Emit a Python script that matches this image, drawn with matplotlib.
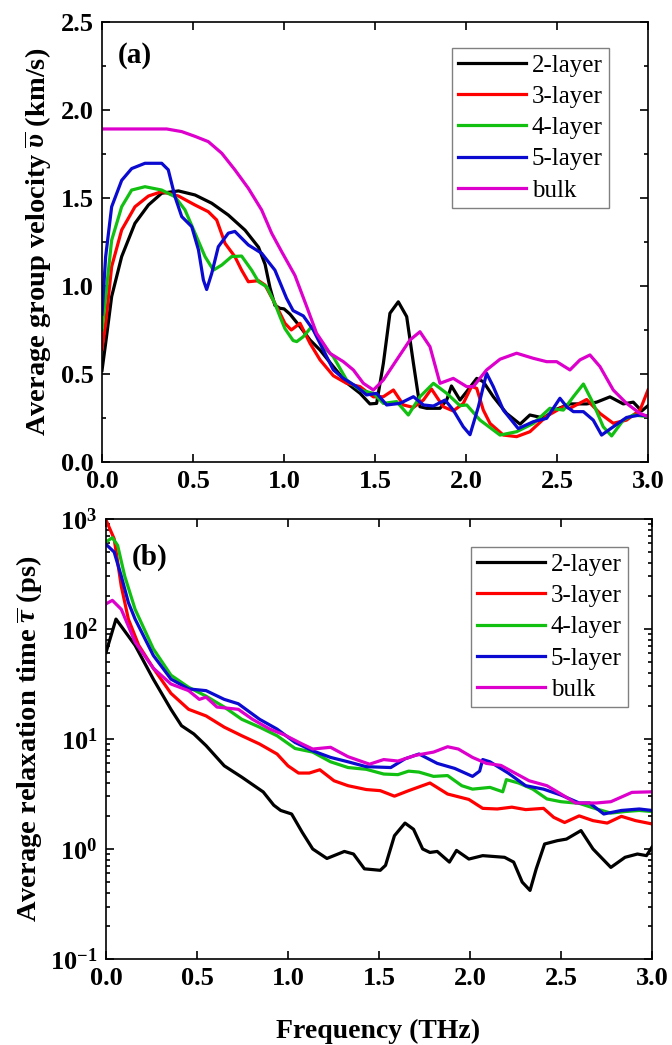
import numpy as np
import matplotlib
matplotlib.use('Agg')
import matplotlib.pyplot as plt
from matplotlib.ticker import MultipleLocator, FormatStrFormatter, LogLocator, FuncFormatter, NullFormatter

plt.rcParams['font.family'] = ['Liberation Serif', 'DejaVu Serif']
plt.rcParams['font.weight'] = 'bold'
plt.rcParams['mathtext.fontset'] = 'custom'
plt.rcParams['mathtext.rm'] = 'Liberation Serif'
plt.rcParams['mathtext.it'] = 'Liberation Serif:italic'
plt.rcParams['mathtext.bf'] = 'Liberation Serif:bold'

labels = ['2-layer', '3-layer', '4-layer', '5-layer', 'bulk']
colors = ['black', '#ff0000', '#11c011', '#0a0ad0', '#dd00cc']

# (a) average group velocity (km/s) vs frequency (THz)
f_v2 = [0.000, 0.020, 0.053, 0.108, 0.181, 0.255, 0.328, 0.420, 0.511, 0.603, 0.694, 0.786, 0.860, 0.896,
        0.923, 0.950, 0.978, 1.000, 1.033, 1.088, 1.143, 1.198, 1.271, 1.344, 1.418, 1.472, 1.509, 1.546,
        1.582, 1.628, 1.674, 1.711, 1.747, 1.784, 1.857, 1.894, 1.920, 1.967, 2.004, 2.059, 2.095, 2.150,
        2.223, 2.297, 2.351, 2.425, 2.498, 2.571, 2.663, 2.718, 2.791, 2.864, 2.919, 2.965, 3.000]
v2 = [0.52, 0.675, 0.94, 1.167, 1.356, 1.46, 1.527, 1.54, 1.517, 1.47, 1.403, 1.317, 1.22, 1.123,
      0.99, 0.89, 0.873, 0.87, 0.84, 0.769, 0.693, 0.636, 0.542, 0.45, 0.39, 0.33, 0.333, 0.561,
      0.845, 0.91, 0.826, 0.561, 0.314, 0.305, 0.305, 0.352, 0.432, 0.352, 0.40, 0.475, 0.456, 0.371,
      0.276, 0.215, 0.267, 0.25, 0.30, 0.33, 0.33, 0.34, 0.37, 0.33, 0.34, 0.29, 0.32]

f_v3 = [0.000, 0.020, 0.053, 0.108, 0.181, 0.255, 0.328, 0.420, 0.511, 0.584, 0.630, 0.676, 0.730, 0.767,
        0.804, 0.860, 0.896, 0.950, 0.978, 1.005, 1.040, 1.088, 1.143, 1.198, 1.271, 1.344, 1.418, 1.491,
        1.546, 1.601, 1.656, 1.711, 1.766, 1.810, 1.875, 1.930, 1.985, 2.031, 2.059, 2.095, 2.132, 2.205,
        2.278, 2.351, 2.443, 2.535, 2.571, 2.663, 2.736, 2.809, 2.882, 2.956, 3.000]
v3 = [0.64, 0.788, 1.11, 1.318, 1.45, 1.511, 1.536, 1.511, 1.46, 1.422, 1.375, 1.242, 1.167, 1.09,
      1.024, 1.03, 1.005, 0.90, 0.845, 0.788, 0.75, 0.788, 0.674, 0.58, 0.49, 0.447, 0.428, 0.37,
      0.371, 0.409, 0.324, 0.31, 0.352, 0.415, 0.314, 0.29, 0.333, 0.43, 0.418, 0.295, 0.219, 0.153,
      0.144, 0.172, 0.26, 0.314, 0.305, 0.355, 0.276, 0.22, 0.238, 0.295, 0.409]

f_v4 = [0.000, 0.020, 0.053, 0.108, 0.163, 0.236, 0.328, 0.401, 0.456, 0.511, 0.566, 0.612, 0.658, 0.712,
        0.767, 0.822, 0.860, 0.905, 0.950, 0.978, 1.005, 1.050, 1.070, 1.106, 1.152, 1.216, 1.271, 1.344,
        1.418, 1.491, 1.546, 1.619, 1.683, 1.747, 1.821, 1.894, 1.967, 2.004, 2.077, 2.187, 2.278, 2.370,
        2.461, 2.535, 2.590, 2.645, 2.699, 2.754, 2.800, 2.864, 2.919, 3.000]
v4 = [0.75, 0.94, 1.26, 1.45, 1.545, 1.564, 1.545, 1.507, 1.432, 1.30, 1.167, 1.09, 1.119, 1.167,
      1.17, 1.09, 1.024, 0.995, 0.90, 0.826, 0.758, 0.69, 0.684, 0.712, 0.769, 0.655, 0.598, 0.466,
      0.409, 0.39, 0.333, 0.343, 0.267, 0.371, 0.447, 0.39, 0.32, 0.324, 0.238, 0.153, 0.172, 0.219,
      0.305, 0.295, 0.371, 0.443, 0.333, 0.20, 0.148, 0.238, 0.267, 0.258]

f_v5 = [0.000, 0.020, 0.053, 0.108, 0.163, 0.236, 0.328, 0.364, 0.401, 0.438, 0.493, 0.530, 0.557, 0.575,
        0.603, 0.639, 0.694, 0.730, 0.804, 0.877, 0.950, 1.014, 1.050, 1.106, 1.161, 1.216, 1.271, 1.326,
        1.399, 1.454, 1.509, 1.564, 1.637, 1.711, 1.766, 1.821, 1.885, 1.930, 1.985, 2.022, 2.068, 2.113,
        2.150, 2.205, 2.287, 2.370, 2.443, 2.516, 2.553, 2.590, 2.645, 2.699, 2.745, 2.809, 2.882, 2.956,
        3.000]
v5 = [0.84, 1.167, 1.45, 1.60, 1.667, 1.697, 1.697, 1.66, 1.507, 1.394, 1.337, 1.205, 1.034, 0.98,
      1.072, 1.223, 1.30, 1.31, 1.233, 1.186, 1.09, 0.93, 0.86, 0.83, 0.75, 0.636, 0.523, 0.475,
      0.428, 0.381, 0.39, 0.324, 0.333, 0.371, 0.324, 0.318, 0.352, 0.295, 0.20, 0.155, 0.314, 0.504,
      0.428, 0.295, 0.19, 0.229, 0.248, 0.362, 0.314, 0.286, 0.286, 0.238, 0.153, 0.20, 0.253, 0.267,
      0.261]

f_vb = [0.000, 0.355, 0.438, 0.511, 0.584, 0.658, 0.730, 0.804, 0.877, 0.932, 0.987, 1.060, 1.125, 1.179,
        1.253, 1.326, 1.381, 1.436, 1.491, 1.546, 1.619, 1.692, 1.747, 1.802, 1.857, 1.930, 2.004, 2.040,
        2.113, 2.187, 2.278, 2.370, 2.443, 2.498, 2.571, 2.626, 2.681, 2.736, 2.809, 2.882, 2.956, 3.000]
vb = [1.892, 1.892, 1.877, 1.85, 1.82, 1.754, 1.66, 1.555, 1.432, 1.30, 1.195, 1.06, 0.882, 0.731,
      0.617, 0.57, 0.523, 0.447, 0.409, 0.466, 0.58, 0.693, 0.74, 0.655, 0.447, 0.475, 0.428, 0.428,
      0.523, 0.584, 0.618, 0.589, 0.57, 0.57, 0.523, 0.58, 0.608, 0.542, 0.409, 0.333, 0.276, 0.258]

# (b) average relaxation time (ps) vs frequency (THz)
f_t2 = [0.000, 0.055, 0.160, 0.260, 0.357, 0.415, 0.483, 0.550, 0.650, 0.746, 0.864, 0.922, 0.960, 1.020,
        1.078, 1.136, 1.214, 1.310, 1.360, 1.420, 1.507, 1.536, 1.585, 1.643, 1.690, 1.740, 1.780, 1.820,
        1.887, 1.926, 1.994, 2.070, 2.190, 2.240, 2.287, 2.330, 2.364, 2.410, 2.480, 2.530, 2.610, 2.676,
        2.774, 2.852, 2.920, 2.970, 3.000]
t2 = [61, 123, 71, 35, 18.6, 13.2, 11.1, 8.7, 5.7, 4.5, 3.3, 2.5, 2.24, 2.08,
      1.42, 1.0, 0.82, 0.95, 0.90, 0.66, 0.64, 0.71, 1.32, 1.72, 1.51, 1.0, 0.93, 0.95,
      0.76, 0.97, 0.81, 0.87, 0.84, 0.76, 0.50, 0.42, 0.66, 1.11, 1.19, 1.23, 1.47, 1.0,
      0.68, 0.84, 0.90, 0.87, 1.04]

f_t3 = [0.000, 0.045, 0.084, 0.123, 0.180, 0.260, 0.357, 0.454, 0.550, 0.650, 0.746, 0.844, 0.940, 1.000,
        1.058, 1.117, 1.175, 1.253, 1.330, 1.430, 1.507, 1.585, 1.663, 1.780, 1.877, 1.994, 2.070, 2.150,
        2.230, 2.306, 2.404, 2.460, 2.520, 2.600, 2.676, 2.754, 2.832, 2.910, 3.000]
t3 = [980, 660, 245, 123, 71, 44, 26, 18.6, 16.2, 12.8, 10.7, 9.0, 7.3, 5.7,
      4.9, 4.9, 5.25, 4.17, 3.76, 3.47, 3.39, 3.02, 3.39, 3.98, 3.16, 2.82, 2.34, 2.31,
      2.4, 2.28, 2.34, 1.94, 1.74, 2.0, 1.81, 1.72, 1.98, 1.81, 1.69]

f_t4 = [0.000, 0.035, 0.064, 0.103, 0.160, 0.260, 0.357, 0.454, 0.550, 0.650, 0.746, 0.844, 0.940, 1.039,
        1.136, 1.234, 1.330, 1.430, 1.526, 1.604, 1.663, 1.720, 1.800, 1.877, 1.955, 2.014, 2.110, 2.180,
        2.200, 2.267, 2.345, 2.423, 2.500, 2.600, 2.696, 2.774, 2.852, 2.930, 3.000]
t4 = [617, 676, 575, 302, 151, 66, 38, 29.5, 24.5, 19.5, 15.1, 12.8, 10.7, 8.2,
      7.6, 6.2, 5.5, 5.3, 4.8, 4.74, 5.1, 5.0, 4.57, 4.65, 3.76, 3.5, 3.63, 3.31,
      4.27, 3.98, 3.5, 2.85, 2.69, 2.6, 2.31, 2.12, 2.19, 2.24, 2.19]

f_t5 = [0.000, 0.045, 0.084, 0.123, 0.160, 0.260, 0.357, 0.454, 0.550, 0.650, 0.727, 0.844, 0.940, 1.039,
        1.136, 1.234, 1.330, 1.430, 1.565, 1.643, 1.720, 1.820, 1.916, 2.014, 2.053, 2.070, 2.110, 2.210,
        2.306, 2.404, 2.500, 2.600, 2.657, 2.735, 2.832, 2.930, 3.000]
t5 = [589, 500, 302, 174, 123, 57.5, 35, 28.5, 27.5, 22.9, 20.9, 15.1, 12.3, 9.3,
      7.8, 6.8, 6.2, 5.6, 5.5, 6.6, 7.3, 6.0, 5.4, 4.57, 5.1, 6.5, 6.2, 4.9,
      3.76, 3.5, 3.09, 2.62, 2.62, 2.08, 2.24, 2.31, 2.24]

f_tb = [0.000, 0.035, 0.084, 0.160, 0.260, 0.357, 0.454, 0.513, 0.550, 0.610, 0.727, 0.805, 0.900, 0.980,
        1.078, 1.136, 1.234, 1.330, 1.448, 1.526, 1.604, 1.700, 1.800, 1.877, 1.936, 2.014, 2.090, 2.170,
        2.247, 2.325, 2.423, 2.500, 2.580, 2.696, 2.774, 2.890, 3.000]
tb = [169, 182, 151, 76, 44, 31.6, 27.5, 22.9, 24.0, 19.5, 18.6, 15.1, 12.3, 10.9,
      9.0, 8.1, 8.4, 6.9, 5.9, 6.5, 6.3, 7.1, 7.6, 8.5, 8.1, 6.8, 6.0, 5.75,
      4.9, 4.17, 3.76, 3.16, 2.62, 2.62, 2.69, 3.27, 3.31]

vel_series = [(f_v2, v2), (f_v3, v3), (f_v4, v4), (f_v5, v5), (f_vb, vb)]
tau_series = [(f_t2, t2), (f_t3, t3), (f_t4, t4), (f_t5, t5), (f_tb, tb)]

fig = plt.figure(figsize=(6.72, 10.45), dpi=100)
ax1 = fig.add_axes([0.1518, 0.5579, 0.8125, 0.4211])
ax2 = fig.add_axes([0.1577, 0.0823, 0.8125, 0.4211])

lw = 2.3
for (fx, fy), lab, c in zip(vel_series, labels, colors):
    ax1.plot(fx, fy, color=c, lw=lw, label=lab, solid_joinstyle='round')
for (fx, fy), lab, c in zip(tau_series, labels, colors):
    ax2.plot(fx, fy, color=c, lw=lw, label=lab, solid_joinstyle='round')

# panel (a) axes
ax1.set_xlim(0, 3)
ax1.set_ylim(0, 2.5)
ax1.xaxis.set_major_locator(MultipleLocator(0.5))
ax1.yaxis.set_major_locator(MultipleLocator(0.5))
ax1.yaxis.set_minor_locator(MultipleLocator(0.25))
ax1.xaxis.set_major_formatter(FormatStrFormatter('%.1f'))
ax1.yaxis.set_major_formatter(FormatStrFormatter('%.1f'))

# panel (b) axes, log scale
ax2.set_yscale('log')
ax2.set_xlim(0, 3)
ax2.set_ylim(0.1, 1000)
ax2.xaxis.set_major_locator(MultipleLocator(0.5))
ax2.xaxis.set_major_formatter(FormatStrFormatter('%.1f'))
ax2.yaxis.set_major_locator(LogLocator(base=10, numticks=10))
ax2.yaxis.set_minor_locator(LogLocator(base=10, subs=np.arange(2, 10), numticks=20))
ax2.yaxis.set_major_formatter(FuncFormatter(lambda y, p: r'$\mathbf{10^{%d}}$' % int(round(np.log10(y)))))
ax2.yaxis.set_minor_formatter(NullFormatter())

leg_prop = {'weight': 'normal', 'size': 18}
for ax in (ax1, ax2):
    for s in ax.spines.values():
        s.set_linewidth(1.2)
    ax.tick_params(which='both', direction='in', top=True, right=True, width=1.2, labelsize=19, pad=6)
    ax.tick_params(which='major', length=6)
    ax.tick_params(which='minor', length=3)
    ax.xaxis.set_minor_locator(plt.NullLocator())

ax1.legend(loc='upper right', bbox_to_anchor=(0.9286, 0.941), borderaxespad=0, prop=leg_prop,
           fancybox=False, edgecolor='#808080', framealpha=1, handlelength=2.7, handletextpad=0.25,
           labelspacing=0.35, borderpad=0.25)
ax2.legend(loc='upper right', bbox_to_anchor=(0.956, 0.936), borderaxespad=0, prop=leg_prop,
           fancybox=False, edgecolor='#808080', framealpha=1, handlelength=2.7, handletextpad=0.25,
           labelspacing=0.35, borderpad=0.25)

ax1.text(0.029, 0.955, '(a)', transform=ax1.transAxes, fontsize=21, fontweight='bold', va='top', ha='left')
ax2.text(0.048, 0.944, '(b)', transform=ax2.transAxes, fontsize=21, fontweight='bold', va='top', ha='left')

ax1.set_ylabel(r'Average group velocity $\overline{\upsilon}$ (km/s)', fontsize=20.5, fontweight='bold')
ax2.set_ylabel(r'Average relaxation time $\overline{\tau}$ (ps)', fontsize=20.5, fontweight='bold')
ax1.yaxis.set_label_coords(-0.088, 0.5)
ax2.yaxis.set_label_coords(-0.112, 0.5)
ax2.set_xlabel('Frequency (THz)', fontsize=20, fontweight='bold')
ax2.xaxis.set_label_coords(0.499, -0.135)

fig.savefig('out.png', dpi=100)
